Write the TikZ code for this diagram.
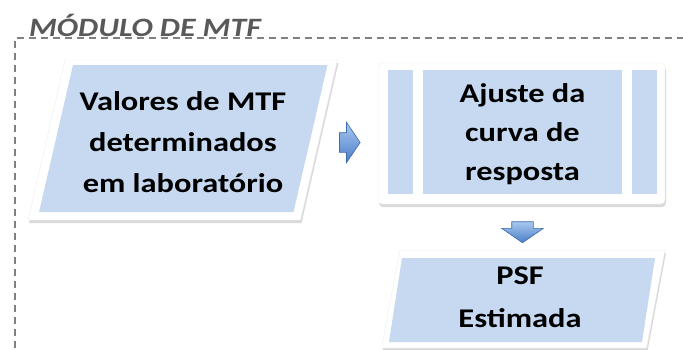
\documentclass[tikz,border=0pt]{standalone}
\usepackage{fontspec}
\setmainfont{Carlito}[FakeStretch=1.2]
\usetikzlibrary{positioning,shapes.geometric,shapes.arrows,shadows}
\definecolor{cbox}{HTML}{C6D9F1}
\definecolor{ctitle}{HTML}{595959}
\definecolor{cmod}{HTML}{808080}
\definecolor{carrlight}{HTML}{A9C8F0}
\definecolor{carrdark}{HTML}{4A7EC6}
\definecolor{carredge}{HTML}{3D6BAE}
\tikzset{
  modline/.style={draw=cmod, line width=1.3pt, dash pattern=on 7pt off 5pt},
  modtitle/.style={font=\fontsize{26.5}{30}\selectfont\bfseries\itshape, text=ctitle,
    inner sep=0pt},
  boxtext/.style={font=\fontsize{27}{41}\selectfont\bfseries, align=center,
    inner sep=0pt, text=black},
  paraframe/.style={trapezium, minimum size=0pt, fill=white, draw=black!7,
    drop shadow={shadow xshift=1pt, shadow yshift=-3pt, opacity=.3}},
  parabox/.style={trapezium, minimum size=0pt, fill=cbox},
  rectframe/.style={rectangle, rounded corners=4pt, fill=white, draw=black!7,
    drop shadow={shadow xshift=1pt, shadow yshift=-3pt, opacity=.3}},
  panel/.style={rectangle, fill=cbox, inner sep=0pt, minimum height=124pt},
  flowarrow/.style={single arrow, minimum size=0pt, single arrow head indent=0pt,
    top color=carrlight, bottom color=carrdark, draw=carredge, line width=.6pt},
}
\begin{document}
\begin{tikzpicture}[x=1pt,y=-1pt]
  \useasboundingbox (0,0) rectangle (683,349);

  % module border
  \draw[modline] (15,360) -- (15,38) -- (700,38);
  \node[modtitle, anchor=base west] (title) at (29,36) {MÓDULO DE MTF};

  % MTF values
  \node[paraframe, trapezium left angle=77, trapezium right angle=103,
    inner xsep=117.75pt, inner ysep=80pt] (valoresframe) at (182.75,140) {};
  \node[parabox, trapezium left angle=77, trapezium right angle=103,
    inner xsep=110.25pt, inner ysep=73.5pt] (valoresbox) at (183.25,138.5) {};
  \node[boxtext] (valores) at (183,142) {Valores de MTF\\determinados\\em laboratório};

  % curve fit
  \node[rectframe, minimum width=287pt, minimum height=141pt] (ajusteframe) at (521.5,133.5) {};
  \node[panel, minimum width=199pt] (ajustepanel) at (522.5,132) {};
  \node[panel, minimum width=25pt, left=10pt of ajustepanel] (barleft) {};
  \node[panel, minimum width=25pt, right=10pt of ajustepanel] (barright) {};
  \node[boxtext, font=\fontsize{27}{39}\selectfont\bfseries] (ajuste) at (522.5,134.5)
    {Ajuste da\\curva de\\resposta};

  % estimated PSF
  \node[paraframe, trapezium left angle=79.3, trapezium right angle=100.7,
    inner xsep=123.25pt, inner ysep=49pt] (psfframe) at (523.25,299) {};
  \node[parabox, trapezium left angle=81.2, trapezium right angle=98.8,
    inner xsep=120pt, inner ysep=42pt] (psfbox) at (522,300) {};
  \node[boxtext, font=\fontsize{27}{43}\selectfont\bfseries] (psf) at (520,297) {PSF\\Estimada};

  % block arrows
  \node[flowarrow, single arrow tip angle=112, single arrow head extend=10.5pt,
    inner xsep=6.75pt, inner ysep=9.5pt] (toajuste) at (346.5,142.5) {};
  \node[flowarrow, rotate=270, single arrow tip angle=111, single arrow head extend=10pt,
    inner xsep=6.5pt, inner ysep=10.5pt] (topsf) at (522.5,228.5) {};
\end{tikzpicture}
\end{document}
